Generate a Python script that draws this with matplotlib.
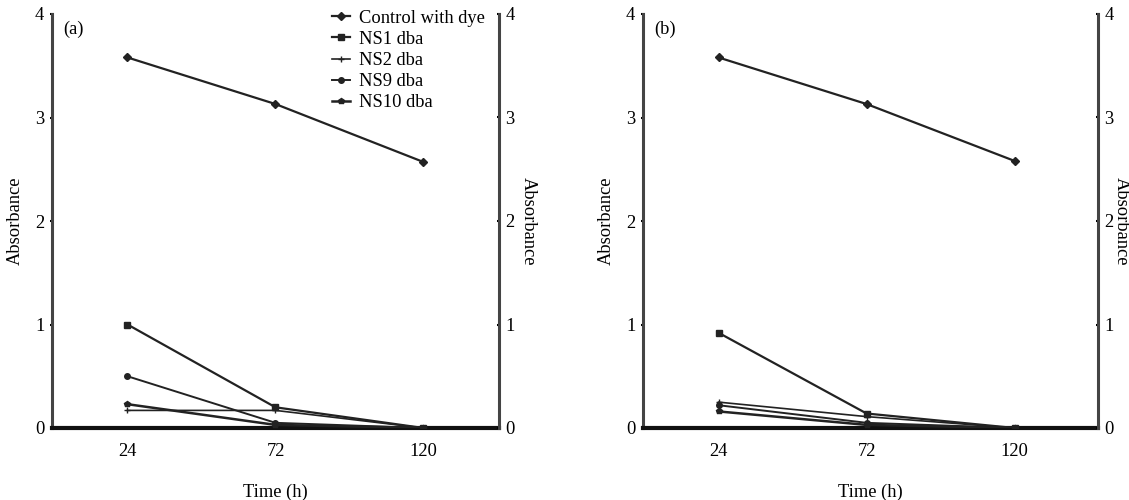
import matplotlib.pyplot as plt

plt.rcParams['font.family'] = ['Liberation Serif', 'DejaVu Serif']

time_h = [24, 72, 120]
series_names = ['Control with dye', 'NS1 dba', 'NS2 dba', 'NS9 dba', 'NS10 dba']

# panel (a)
a_control = [3.58, 3.13, 2.57]
a_ns1 = [1.00, 0.20, 0.00]
a_ns2 = [0.17, 0.17, 0.00]
a_ns9 = [0.50, 0.05, 0.00]
a_ns10 = [0.23, 0.03, 0.00]

# panel (b)
b_control = [3.58, 3.13, 2.58]
b_ns1 = [0.92, 0.14, 0.00]
b_ns2 = [0.25, 0.11, 0.00]
b_ns9 = [0.22, 0.05, 0.00]
b_ns10 = [0.16, 0.03, 0.00]

markers = ['D', 's', '+', 'o', 'p']
sizes = [4, 4, 5, 4, 4]
widths = [1.6, 1.6, 1.2, 1.4, 1.8]

fig = plt.figure(figsize=(11.29, 5), dpi=100)
ax_a = fig.add_axes([0.046, 0.144, 0.396, 0.828])
ax_b = fig.add_axes([0.5695, 0.144, 0.403, 0.828])

FS = 13.3


def draw(ax, data, tag, legend, xmax, rpad):
    for i, vals in enumerate(data):
        ax.plot(time_h, vals, color='#222222', marker=markers[i], markersize=sizes[i],
                linewidth=widths[i], label=series_names[i], zorder=3)
    ax.set_xlim(-0.5, xmax)
    ax.set_ylim(0, 4)
    ax.set_xticks(time_h)
    ax.set_yticks([0, 1, 2, 3, 4])
    ax.set_xlabel('Time (h)', fontsize=FS, labelpad=17)
    ax.set_ylabel('Absorbance', fontsize=FS, labelpad=8)
    ax.tick_params(axis='both', labelsize=FS, length=3, width=1.5, direction='inout')
    ax.tick_params(axis='y', pad=4)
    ax.tick_params(axis='x', length=0, pad=11)
    ax.spines['top'].set_visible(False)
    ax.spines['left'].set_linewidth(2.2)
    ax.spines['left'].set_color('#444444')
    ax.spines['right'].set_visible(False)
    ax.spines['bottom'].set_linewidth(3)
    ax.spines['bottom'].set_color('#111111')
    ax.text(0.025, 0.985, tag, transform=ax.transAxes, fontsize=FS, va='top')

    r = ax.twinx()
    r.set_ylim(0, 4)
    r.set_yticks([0, 1, 2, 3, 4])
    r.set_ylabel('Absorbance', fontsize=FS, rotation=270, labelpad=rpad)
    r.tick_params(axis='y', labelsize=FS, length=3, width=1.5, direction='inout', pad=3)
    for s in ['top', 'left', 'bottom']:
        r.spines[s].set_visible(False)
    r.spines['right'].set_linewidth(2.2)
    r.spines['right'].set_color('#444444')

    if legend:
        ax.legend(loc='upper left', bbox_to_anchor=(0.626, 1.01), frameon=False,
                  fontsize=FS, handlelength=1.0, handletextpad=0.45,
                  labelspacing=0.22, borderaxespad=0, borderpad=0)


draw(ax_a, [a_control, a_ns1, a_ns2, a_ns9, a_ns10], '(a)', True, 144.5, 16)
draw(ax_b, [b_control, b_ns1, b_ns2, b_ns9, b_ns10], '(b)', False, 147, 12)

fig.savefig('out.png', dpi=100)
